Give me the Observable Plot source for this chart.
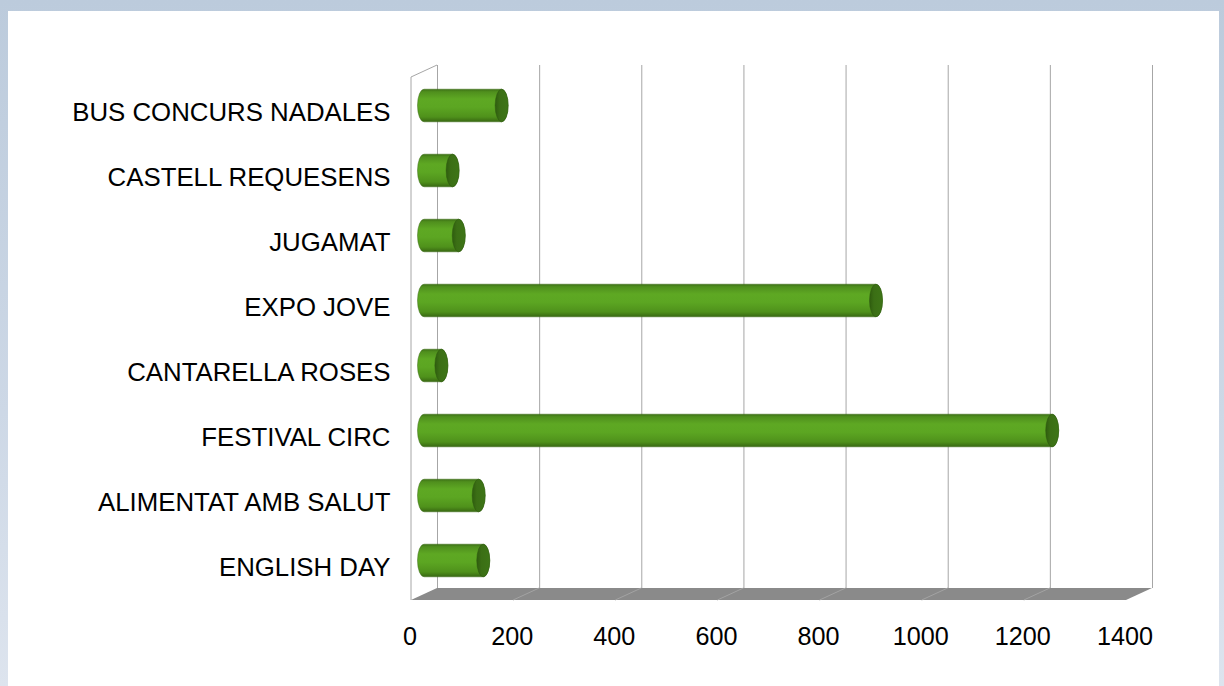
<!DOCTYPE html>
<html><head><meta charset="utf-8">
<script src="https://cdn.jsdelivr.net/npm/d3@7"></script>
<script src="https://cdn.jsdelivr.net/npm/@observablehq/plot@0.6"></script>
<style>
html,body{margin:0;padding:0;}
body{width:1224px;height:686px;overflow:hidden;position:relative;background:linear-gradient(180deg,#bccbdc 0%,#cdd8e6 60%,#dde4ee 100%);font-family:"Liberation Sans",Arial,sans-serif;}
#panel{position:absolute;left:8px;top:11px;width:1211px;height:675px;background:#fff;}
#chart{position:absolute;left:0;top:0;}
</style></head><body><div id="panel"></div><div id="chart"></div>
<script>
const categories = ["BUS CONCURS NADALES","CASTELL REQUESENS","JUGAMAT","EXPO JOVE","CANTARELLA ROSES","FESTIVAL CIRC","ALIMENTAT AMB SALUT","ENGLISH DAY"];
const values = [152, 56, 68, 885, 34, 1230, 107, 116];
const xTicks = [0, 200, 400, 600, 800, 1000, 1200, 1400];
const data = categories.map((c, i) => ({category: c, value: values[i]}));

const DX = 13, DY = 6; // depth offset of the 3D box (half depth)

const defs = () => {
  const d = d3.create("svg:defs");
  const lg = d.append("linearGradient").attr("id", "cyl").attr("x1", 0).attr("y1", 0).attr("x2", 0).attr("y2", 1);
  [["0%", "#3c7016"], ["8%", "#4f8f1d"], ["30%", "#5ea823"], ["55%", "#5ca622"], ["85%", "#4f911b"], ["100%", "#386812"]]
    .forEach(([o, c]) => lg.append("stop").attr("offset", o).attr("stop-color", c));
  const cg = d.append("linearGradient").attr("id", "cap").attr("x1", 0).attr("y1", 0).attr("x2", 1).attr("y2", 0);
  [["0%", "#2f5c0f"], ["35%", "#3b6f15"], ["100%", "#3e7517"]]
    .forEach(([o, c]) => cg.append("stop").attr("offset", o).attr("stop-color", c));
  return d.node();
};

const box3d = (index, scales, values, dims) => {
  const x = scales.x;
  const {height, marginTop, marginBottom} = dims;
  const top = marginTop, bottom = height - marginBottom;
  const x0 = x(xTicks[0]), x1 = x(xTicks[xTicks.length - 1]);
  const g = d3.create("svg:g");
  // left side wall edges
  g.append("path")
    .attr("d", `M${x0 - DX},${bottom + DY}L${x0 - DX},${top + DY}L${x0 + DX},${top - DY}`)
    .attr("fill", "none").attr("stroke", "#a6a6a6").attr("stroke-width", 1);
  // floor
  g.append("path")
    .attr("d", `M${x0 - DX},${bottom + DY}L${x1 - DX},${bottom + DY}L${x1 + DX},${bottom - DY}L${x0 + DX},${bottom - DY}Z`)
    .attr("fill", "#8a8a8a");
  // floor grid lines
  xTicks.slice(1, -1).forEach(t => {
    g.append("line")
      .attr("x1", x(t) - DX).attr("y1", bottom + DY)
      .attr("x2", x(t) + DX).attr("y2", bottom - DY)
      .attr("stroke", "#a3a3a3").attr("stroke-width", 1);
  });
  return g.node();
};

const chart = Plot.plot({
  width: 1224,
  height: 686,
  marginLeft: 424,
  marginRight: 85,
  marginTop: 71,
  marginBottom: 92,
  style: {background: "none", color: "#000", fontFamily: "'Liberation Sans', Arial, sans-serif"},
  x: {domain: [0, 1400], axis: null},
  y: {domain: categories, padding: 0, axis: null},
  marks: [
    defs,
    Plot.ruleX(xTicks, {dx: DX, dy: -DY, stroke: "#a6a6a6", strokeWidth: 1}),
    box3d,
    Plot.barX(data, {
      x: "value", y: "category",
      insetTop: 16.2, insetBottom: 16.2, insetLeft: -6.5, insetRight: -6.5,
      rx: 6.5, ry: 16.5,
      fill: "url(#cyl)", stroke: "#3a6b15", strokeWidth: 0.5
    }),
    Plot.barX(data, {
      x1: "value", x2: "value", y: "category",
      insetTop: 16.2, insetBottom: 16.2, insetLeft: -6.5, insetRight: -6.5,
      rx: 6.5, ry: 16.5,
      fill: "url(#cap)", stroke: "#2d580e", strokeWidth: 0.5
    }),
    Plot.axisY({tickSize: 0, tickPadding: 21, dx: -DX, dy: DY + 0.5, fontSize: 25.8, label: null}),
    Plot.axisX(xTicks, {tickSize: 0, tickPadding: 27, dx: -DX - 1.5, dy: DY, fontSize: 25.2, tickFormat: d => String(d), label: null})
  ]
});
document.getElementById("chart").appendChild(chart);
</script>
</body></html>
